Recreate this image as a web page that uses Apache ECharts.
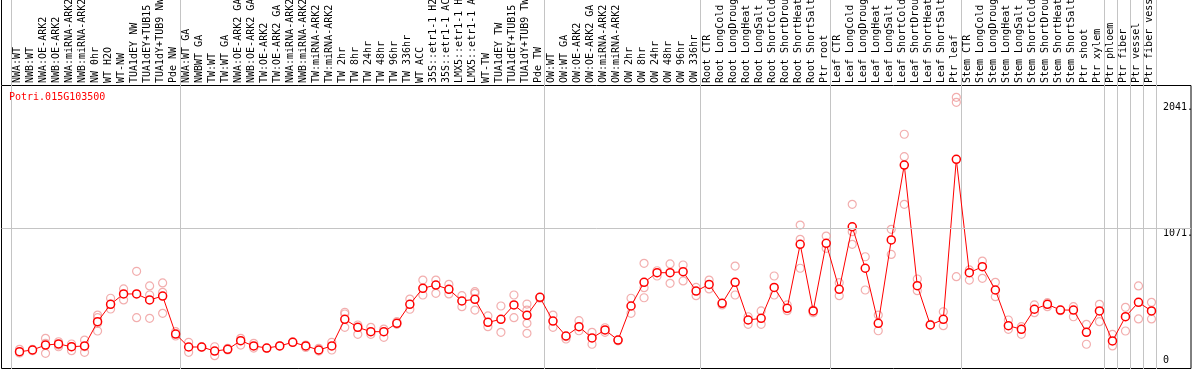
<!DOCTYPE html>
<html>
<head>
<meta charset="utf-8">
<script src="https://cdn.jsdelivr.net/npm/echarts@6/dist/echarts.min.js"></script>
<style>html,body{margin:0;padding:0;background:#fff;}#c{width:1194px;height:370px;}</style>
</head>
<body>
<div id="c"></div>
<script>
const geneName = 'Potri.015G103500';
const categories = [
 'NWA:WT','NWB:WT','NWA:OE-ARK2','NWB:OE-ARK2','NWA:miRNA-ARK2','NWB:miRNA-ARK2','NW 0hr','WT H2O','WT-NW','TUA1dEY NW','TUA1dEY+TUB15 NW','TUA1dY+TUB9 NW','Pde NW',
 'NWA:WT GA','NWBWT GA','TW:WT','TW:WT GA','NWA:OE-ARK2 GA','NWB:OE-ARK2 GA','TW:OE-ARK2','TW:OE-ARK2 GA','NWA:miRNA-ARK2 GA','NWB:miRNA-ARK2 GA','TW:miRNA-ARK2','TW:miRNA-ARK2 GA','TW 2hr','TW 8hr','TW 24hr','TW 48hr','TW 96hr','TW 336hr','WT ACC','35S::etr1-1 H2O','35S::etr1-1 ACC','LMX5::etr1-1 H2O','LMX5::etr1-1 ACC','WT-TW','TUA1dEY TW','TUA1dEY+TUB15 TW','TUA1dY+TUB9 TW','Pde TW',
 'OW:WT','OW:WT GA','OW:OE-ARK2','OW:OE-ARK2 GA','OW:miRNA-ARK2','OW:miRNA-ARK2 GA','OW 2hr','OW 8hr','OW 24hr','OW 48hr','OW 96hr','OW 336hr',
 'Root CTR','Root LongCold','Root LongDrought','Root LongHeat','Root LongSalt','Root ShortCold','Root ShortDrought','Root ShortHeat','Root ShortSalt','Ptr root',
 'Leaf CTR','Leaf LongCold','Leaf LongDrought','Leaf LongHeat','Leaf LongSalt','Leaf ShortCold','Leaf ShortDrought','Leaf ShortHeat','Leaf ShortSalt','Ptr leaf',
 'Stem CTR','Stem LongCold','Stem LongDrought','Stem LongHeat','Stem LongSalt','Stem ShortCold','Stem ShortDrought','Stem ShortHeat','Stem ShortSalt','Ptr shoot','Ptr xylem',
 'Ptr phloem','Ptr fiber','Ptr vessel','Ptr fiber vessel'
];
const groupStarts = [0, 13, 41, 53, 63, 73, 84, 85, 86, 87];
const meanValues = [
 132,145,183,191,170,176,361,494,573,573,527,557,267,
 168,168,137,150,216,176,160,176,204,176,145,176,379,318,285,285,349,494,616,641,608,519,532,356,379,489,410,547,
 366,252,323,237,298,221,481,662,735,735,743,595,
 646,501,662,374,387,623,463,952,443,959,
 608,1086,769,349,985,1557,636,336,379,1601,
 735,781,603,331,303,456,494,450,450,280,443,
 214,399,509,443
];
const rep1 = [
 150,150,234,208,191,221,412,540,611,746,634,657,285,
 204,170,170,158,234,196,158,176,208,183,158,204,433,336,318,305,361,534,679,679,646,560,590,405,481,565,496,547,
 412,247,369,280,315,221,540,807,750,802,794,623,
 679,501,786,399,443,710,489,1099,450,1015,
 659,1257,857,412,1066,1792,687,341,437,2074,
 756,824,662,374,323,489,506,450,476,341,494,
 265,471,634,509
];
const rep2 = [
 122,140,120,183,140,127,290,458,527,392,565,585,252,
 127,165,102,145,183,160,null,null,null,165,137,145,420,265,265,242,341,456,565,578,573,476,578,323,280,392,450,540,
 318,229,292,189,280,215,425,621,710,654,672,560,
 611,489,565,341,341,565,445,990,430,921,
 560,1048,603,292,875,1621,598,336,331,2036,
 679,692,552,303,265,430,476,445,399,189,361,
 176,290,382,382
];
const rep3 = [
 null,null,195,170,170,170,392,494,null,null,387,425,null,
 null,null,null,null,null,null,null,null,null,null,null,null,318,null,null,null,null,null,null,null,null,null,450,null,null,null,349,null,
 null,null,null,null,null,null,null,544,null,null,null,null,
 null,null,null,null,null,null,null,769,null,null,
 null,952,null,null,null,1257,null,null,null,705,
 null,null,null,null,null,null,null,null,null,null,null,
 null,null,null,null
];
const rep4 = [
 null,null,null,null,null,null,349,null,null,null,null,null,null,
 null,null,null,null,null,null,null,null,null,null,null,null,null,null,null,null,null,null,null,null,null,null,null,null,null,null,272,null,
 null,null,null,null,null,null,null,null,null,null,null,null,
 null,null,null,null,null,null,null,null,null,null,
 null,null,null,null,null,null,null,null,null,null,
 null,null,null,null,null,null,null,null,null,null,null,
 null,null,null,null
];
const yMax = 2168;
const yTickValues = [0, 1071, 2041];
const yTickLabels = ['0', '1071.', '2041.'];

const mono = "'DejaVu Sans Mono', monospace";
const labelOf = v => yTickLabels[yTickValues.indexOf(v)];
const splitFn = (idx) => groupStarts.indexOf(idx) >= 0;
const gridLineStyle = { color: '#c4c4c4', width: 1 };

function repSeries(arr) {
  return {
    type: 'scatter', xAxisIndex: 2, yAxisIndex: 2,
    data: arr.map((v, i) => v == null ? null : [i, v]),
    symbol: 'circle', symbolSize: 8, silent: true,
    itemStyle: { color: 'rgba(0,0,0,0)', borderColor: '#ef9a9a', borderWidth: 1.2 },
    z: 2
  };
}

const chart = echarts.init(document.getElementById('c'), null, { renderer: 'canvas' });
chart.setOption({
  animation: false,
  backgroundColor: '#fff',
  graphic: [
    { type: 'line', shape: { x1: 1.5, y1: 0, x2: 1.5, y2: 85 }, style: { stroke: '#000', lineWidth: 1 }, silent: true },
    { type: 'text', left: 9, top: 92, silent: true, z: 100,
      style: { text: geneName, fill: '#ff0000', font: "10px 'DejaVu Sans Mono', monospace" } }
  ],
  grid: [
    { left: 11, width: 1145, top: 0, height: 85, show: false, outerBoundsMode: 'none', containLabel: false },
    { left: 11, width: 1145, top: 85, height: 284, show: false, outerBoundsMode: 'none', containLabel: false },
    { left: 13, width: 1145, top: 85, height: 284, show: false, outerBoundsMode: 'none', containLabel: false },
    { left: 1.5, width: 1189.5, top: 85.5, height: 283, show: true, borderColor: '#000', borderWidth: 1, backgroundColor: 'transparent', outerBoundsMode: 'none', containLabel: false }
  ],
  xAxis: [
    { gridIndex: 0, type: 'category', data: categories, boundaryGap: true,
      axisLine: { show: false }, axisTick: { show: false }, axisLabel: { show: false },
      splitLine: { show: true, interval: splitFn, lineStyle: gridLineStyle } },
    { gridIndex: 1, type: 'category', data: categories, boundaryGap: true, position: 'top',
      axisLine: { show: false }, axisTick: { show: false },
      axisLabel: { show: true, interval: 0, rotate: 90, margin: 2, color: '#000', fontFamily: mono, fontSize: 10 },
      splitLine: { show: true, interval: splitFn, lineStyle: gridLineStyle } },
    { gridIndex: 2, type: 'category', data: categories, boundaryGap: true, show: false },
    { gridIndex: 3, type: 'value', min: 0, max: 1, show: false }
  ],
  yAxis: [
    { gridIndex: 0, type: 'value', show: false, splitLine: { show: false } },
    { gridIndex: 1, type: 'value', min: 0, max: yMax, show: false, splitLine: { show: false } },
    { gridIndex: 2, type: 'value', min: 0, max: yMax, show: false, splitLine: { show: false } },
    { gridIndex: 3, type: 'value', min: 0, max: yMax, position: 'right',
      axisLine: { show: false }, axisTick: { show: false }, splitLine: { show: false },
      axisLabel: { show: true, inside: true, align: 'left', margin: 28, verticalAlign: 'top',
        customValues: yTickValues.filter(v => v > 0), formatter: labelOf,
        color: '#000', fontFamily: mono, fontSize: 10 } },
    { gridIndex: 3, type: 'value', min: 0, max: yMax, position: 'right',
      axisLine: { show: false }, axisTick: { show: false }, splitLine: { show: false },
      axisLabel: { show: true, inside: true, align: 'left', margin: 28, verticalAlign: 'bottom', padding: [0, 0, 3, 0],
        customValues: yTickValues.filter(v => v === 0), formatter: labelOf,
        color: '#000', fontFamily: mono, fontSize: 10 } }
  ],
  series: [
    { type: 'line', xAxisIndex: 3, yAxisIndex: 3, data: [], silent: true,
      markLine: { silent: true, symbol: 'none', label: { show: false },
        lineStyle: { color: '#c4c4c4', width: 1, type: 'solid' },
        data: [{ yAxis: yTickValues[1] }] } },
    repSeries(rep1), repSeries(rep2), repSeries(rep3), repSeries(rep4),
    { type: 'line', xAxisIndex: 2, yAxisIndex: 2, data: meanValues, silent: true,
      symbol: 'circle', symbolSize: 8, showAllSymbol: true,
      lineStyle: { color: '#ff0000', width: 1 },
      itemStyle: { color: '#fff', borderColor: '#ff0000', borderWidth: 1.5 },
      z: 3 }
  ]
});
</script>
</body>
</html>
